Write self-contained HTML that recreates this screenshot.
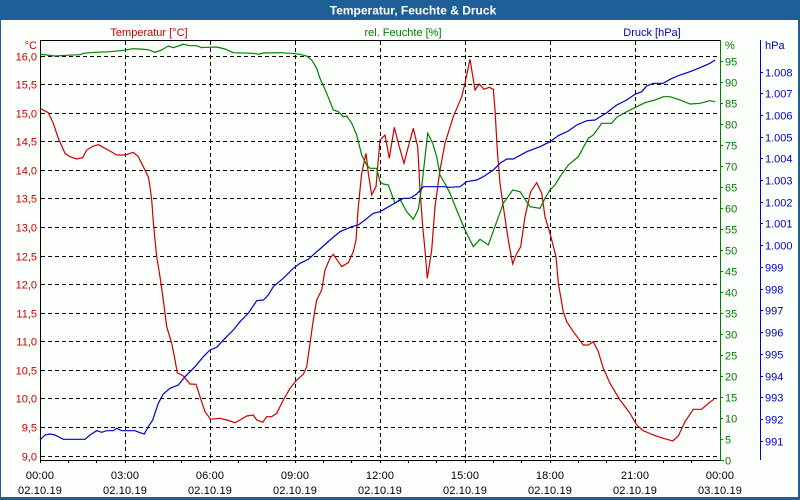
<!DOCTYPE html>
<html><head><meta charset="utf-8"><style>
html,body{margin:0;padding:0;background:#fcfefc;}
svg{display:block;font-family:"Liberation Sans",Arial,sans-serif;}
</style></head><body>
<svg width="800" height="500" viewBox="0 0 800 500" xmlns="http://www.w3.org/2000/svg">
<rect x="0" y="0" width="800" height="500" fill="#fcfefc"/>
<!-- frame -->
<rect x="0" y="0" width="800" height="20" fill="#1e5f98"/>
<rect x="0" y="0" width="1" height="500" fill="#1e5f98"/>
<rect x="798" y="0" width="2" height="500" fill="#1e5f98"/>
<rect x="0" y="497" width="800" height="3" fill="#1e5f98"/>
<text x="413" y="14.5" font-size="12" font-weight="bold" fill="#ffffff" text-anchor="middle">Temperatur, Feuchte &amp; Druck</text>

<!-- axis titles -->
<text x="149" y="36" font-size="11" fill="#cc0000" text-anchor="middle">Temperatur [°C]</text>
<text x="403" y="36" font-size="11" fill="#008000" text-anchor="middle">rel. Feuchte [%]</text>
<text x="652" y="36" font-size="11" fill="#0000cc" text-anchor="middle">Druck [hPa]</text>

<!-- grid -->
<g stroke="#000" stroke-width="1" stroke-dasharray="4,3" shape-rendering="crispEdges">
<line x1="41" y1="56.5" x2="720" y2="56.5"/>
<line x1="41" y1="84.5" x2="720" y2="84.5"/>
<line x1="41" y1="113.5" x2="720" y2="113.5"/>
<line x1="41" y1="141.5" x2="720" y2="141.5"/>
<line x1="41" y1="170.5" x2="720" y2="170.5"/>
<line x1="41" y1="198.5" x2="720" y2="198.5"/>
<line x1="41" y1="227.5" x2="720" y2="227.5"/>
<line x1="41" y1="256.5" x2="720" y2="256.5"/>
<line x1="41" y1="284.5" x2="720" y2="284.5"/>
<line x1="41" y1="313.5" x2="720" y2="313.5"/>
<line x1="41" y1="341.5" x2="720" y2="341.5"/>
<line x1="41" y1="370.5" x2="720" y2="370.5"/>
<line x1="41" y1="398.5" x2="720" y2="398.5"/>
<line x1="41" y1="427.5" x2="720" y2="427.5"/>
<line x1="41" y1="456.5" x2="720" y2="456.5"/>
<line x1="125.5" y1="41" x2="125.5" y2="463"/>
<line x1="210.5" y1="41" x2="210.5" y2="463"/>
<line x1="295.5" y1="41" x2="295.5" y2="463"/>
<line x1="380.5" y1="41" x2="380.5" y2="463"/>
<line x1="465.5" y1="41" x2="465.5" y2="463"/>
<line x1="550.5" y1="41" x2="550.5" y2="463"/>
<line x1="635.5" y1="41" x2="635.5" y2="463"/>
</g>

<!-- axes -->
<g stroke="#000" stroke-width="1" shape-rendering="crispEdges">
<line x1="40" y1="40.5" x2="720" y2="40.5"/>
<line x1="40.5" y1="40" x2="40.5" y2="463"/>
<line x1="40" y1="460.5" x2="720" y2="460.5"/>
<line x1="68.5" y1="460" x2="68.5" y2="463"/>
<line x1="96.5" y1="460" x2="96.5" y2="463"/>
<line x1="153.5" y1="460" x2="153.5" y2="463"/>
<line x1="181.5" y1="460" x2="181.5" y2="463"/>
<line x1="238.5" y1="460" x2="238.5" y2="463"/>
<line x1="266.5" y1="460" x2="266.5" y2="463"/>
<line x1="323.5" y1="460" x2="323.5" y2="463"/>
<line x1="351.5" y1="460" x2="351.5" y2="463"/>
<line x1="408.5" y1="460" x2="408.5" y2="463"/>
<line x1="436.5" y1="460" x2="436.5" y2="463"/>
<line x1="493.5" y1="460" x2="493.5" y2="463"/>
<line x1="521.5" y1="460" x2="521.5" y2="463"/>
<line x1="578.5" y1="460" x2="578.5" y2="463"/>
<line x1="606.5" y1="460" x2="606.5" y2="463"/>
<line x1="663.5" y1="460" x2="663.5" y2="463"/>
<line x1="691.5" y1="460" x2="691.5" y2="463"/>
</g>
<g stroke="#008000" stroke-width="1" shape-rendering="crispEdges">
<line x1="720.5" y1="40" x2="720.5" y2="461"/>
<line x1="720" y1="460.5" x2="724" y2="460.5"/>
<line x1="720" y1="439.5" x2="723" y2="439.5"/>
<line x1="720" y1="418.5" x2="723" y2="418.5"/>
<line x1="720" y1="397.5" x2="723" y2="397.5"/>
<line x1="720" y1="376.5" x2="723" y2="376.5"/>
<line x1="720" y1="355.5" x2="723" y2="355.5"/>
<line x1="720" y1="334.5" x2="723" y2="334.5"/>
<line x1="720" y1="313.5" x2="723" y2="313.5"/>
<line x1="720" y1="292.5" x2="723" y2="292.5"/>
<line x1="720" y1="271.5" x2="723" y2="271.5"/>
<line x1="720" y1="250.5" x2="723" y2="250.5"/>
<line x1="720" y1="229.5" x2="723" y2="229.5"/>
<line x1="720" y1="208.5" x2="723" y2="208.5"/>
<line x1="720" y1="187.5" x2="723" y2="187.5"/>
<line x1="720" y1="166.5" x2="723" y2="166.5"/>
<line x1="720" y1="145.5" x2="723" y2="145.5"/>
<line x1="720" y1="124.5" x2="723" y2="124.5"/>
<line x1="720" y1="103.5" x2="723" y2="103.5"/>
<line x1="720" y1="82.5" x2="723" y2="82.5"/>
<line x1="720" y1="61.5" x2="723" y2="61.5"/>
</g>
<g stroke="#0000cc" stroke-width="1" shape-rendering="crispEdges">
<line x1="760.5" y1="40" x2="760.5" y2="460"/>
<line x1="760" y1="441.5" x2="763" y2="441.5"/>
<line x1="760" y1="419.5" x2="763" y2="419.5"/>
<line x1="760" y1="397.5" x2="763" y2="397.5"/>
<line x1="760" y1="376.5" x2="763" y2="376.5"/>
<line x1="760" y1="354.5" x2="763" y2="354.5"/>
<line x1="760" y1="332.5" x2="763" y2="332.5"/>
<line x1="760" y1="310.5" x2="763" y2="310.5"/>
<line x1="760" y1="289.5" x2="763" y2="289.5"/>
<line x1="760" y1="267.5" x2="763" y2="267.5"/>
<line x1="760" y1="245.5" x2="763" y2="245.5"/>
<line x1="760" y1="223.5" x2="763" y2="223.5"/>
<line x1="760" y1="202.5" x2="763" y2="202.5"/>
<line x1="760" y1="180.5" x2="763" y2="180.5"/>
<line x1="760" y1="158.5" x2="763" y2="158.5"/>
<line x1="760" y1="137.5" x2="763" y2="137.5"/>
<line x1="760" y1="115.5" x2="763" y2="115.5"/>
<line x1="760" y1="93.5" x2="763" y2="93.5"/>
<line x1="760" y1="72.5" x2="763" y2="72.5"/>
</g>

<!-- left labels -->
<g font-size="11" fill="#cc0000" text-anchor="end">
<text x="37" y="49">°C</text>
<text x="37" y="60.5">16,0</text>
<text x="37" y="88.5">15,5</text>
<text x="37" y="117.5">15,0</text>
<text x="37" y="145.5">14,5</text>
<text x="37" y="174.5">14,0</text>
<text x="37" y="202.5">13,5</text>
<text x="37" y="231.5">13,0</text>
<text x="37" y="260.5">12,5</text>
<text x="37" y="288.5">12,0</text>
<text x="37" y="317.5">11,5</text>
<text x="37" y="345.5">11,0</text>
<text x="37" y="374.5">10,5</text>
<text x="37" y="402.5">10,0</text>
<text x="37" y="431.5">9,5</text>
<text x="37" y="460.5">9,0</text>
</g>

<!-- humidity labels -->
<g font-size="11" fill="#008000">
<text x="725" y="49">%</text>
<text x="725" y="464.5">0</text>
<text x="725" y="443.5">5</text>
<text x="725" y="422.5">10</text>
<text x="725" y="401.5">15</text>
<text x="725" y="380.5">20</text>
<text x="725" y="359.5">25</text>
<text x="725" y="338.5">30</text>
<text x="725" y="317.5">35</text>
<text x="725" y="296.5">40</text>
<text x="725" y="275.5">45</text>
<text x="725" y="254.5">50</text>
<text x="725" y="233.5">55</text>
<text x="725" y="212.5">60</text>
<text x="725" y="191.5">65</text>
<text x="725" y="170.5">70</text>
<text x="725" y="149.5">75</text>
<text x="725" y="128.5">80</text>
<text x="725" y="107.5">85</text>
<text x="725" y="86.5">90</text>
<text x="725" y="65.5">95</text>
</g>

<!-- pressure labels -->
<g font-size="11" fill="#0000cc">
<text x="765" y="49">hPa</text>
<text x="765" y="445.5">991</text>
<text x="765" y="423.5">992</text>
<text x="765" y="401.5">993</text>
<text x="765" y="380.5">994</text>
<text x="765" y="358.5">995</text>
<text x="765" y="336.5">996</text>
<text x="765" y="314.5">997</text>
<text x="765" y="293.5">998</text>
<text x="765" y="271.5">999</text>
<text x="765" y="249.5">1.000</text>
<text x="765" y="227.5">1.001</text>
<text x="765" y="206.5">1.002</text>
<text x="765" y="184.5">1.003</text>
<text x="765" y="162.5">1.004</text>
<text x="765" y="141.5">1.005</text>
<text x="765" y="119.5">1.006</text>
<text x="765" y="97.5">1.007</text>
<text x="765" y="76.5">1.008</text>
</g>

<!-- x labels -->
<g font-size="11" fill="#000" text-anchor="middle" letter-spacing="0.15">
<text x="40" y="479">00:00</text><text x="40" y="494">02.10.19</text>
<text x="125" y="479">03:00</text><text x="125" y="494">02.10.19</text>
<text x="210" y="479">06:00</text><text x="210" y="494">02.10.19</text>
<text x="295" y="479">09:00</text><text x="295" y="494">02.10.19</text>
<text x="380" y="479">12:00</text><text x="380" y="494">02.10.19</text>
<text x="465" y="479">15:00</text><text x="465" y="494">02.10.19</text>
<text x="550" y="479">18:00</text><text x="550" y="494">02.10.19</text>
<text x="635" y="479">21:00</text><text x="635" y="494">02.10.19</text>
<text x="720" y="479">00:00</text><text x="720" y="494">03.10.19</text>
</g>

<!-- series -->
<polyline fill="none" stroke="#cc0000" stroke-width="1.2" points="40,108.3 48.3,112.7 53.3,123.3 58.3,138.3 65,153.3 70,156.7 76.7,159 82.7,157.7 86.7,150 93.3,146 98.3,144.7 105,148.3 110,151 116.7,155 125,155 133.3,152.3 138.3,156.7 143.3,166.7 148.3,176.7 150,186.7 151.7,200 153.3,221.7 155,240 156.7,256.7 160,276.7 163.3,300 166.7,326.7 171.7,343.3 175,360 177.3,372.7 183.3,376 190,384 196,384.3 200,396.7 205,411.7 210.7,419.3 220,418.3 226.7,420 235,422.7 240,420 246.7,416 253.3,415 256.7,420 262.7,422.3 266.7,416.7 271.7,416.7 276.7,413.3 283.3,400 290,388.3 296.7,380 303.3,374.3 306.7,366.7 310,343.3 313.3,320 316.7,300 321.7,290 325,270 330,258.3 333.3,254.3 338.3,261.7 341.7,266.7 348.3,262.7 353.3,251.7 356,240 358.3,206.7 361.7,173.3 366,153.3 368.3,173.3 371.7,195 376,186.7 380,140 385,135 389.3,158.3 394.3,127.3 399.3,146.7 404,163.3 408.3,146.7 413.3,128.3 417.7,146.7 420,190 422.7,226.7 425,250 427.3,278.3 431.7,250 435,206.7 440,170 445,143.3 453.3,116.7 461.7,96.7 465,83.3 470,59.3 475,90 479.3,84 484,89.3 489.3,87.3 493.3,89.3 495,110 497.3,150 500,183.3 503.3,206.7 508.3,240 512.7,264 516,255 520.7,246.7 525,216.7 530.7,191.7 536.7,182.7 541.7,193.3 545,216.7 550,233.3 553,245 556,256.7 558.3,283.3 563.3,311.7 566.7,321.7 573.3,331.7 578.3,338.3 583.3,345 588.3,345 593.3,341.7 598.3,351.7 603.3,368.3 610,383.3 620,400 630,413.3 636.7,425 643.3,430.7 653.3,435 663.3,438.3 672.7,441 678.3,436 685,421.7 693.3,409.3 701.7,409.3 708.3,403.3 714,399.3"/>
<polyline fill="none" stroke="#008000" stroke-width="1.2" points="40,54.3 46.7,55 55,56 66.7,55.3 80,54.7 83.3,53.3 95,52.3 110,51.7 123.3,50.3 133.3,48.7 140,49 148.3,49.7 155,52.3 161.7,50 168.3,46 173.3,47.7 183.3,44.3 190,45.7 196.7,45.7 201.7,47.7 206.7,47.3 216.7,47 225,49 233.3,52.7 253.3,53.3 258.3,54.3 263.3,53 280,52.7 291.7,53.3 300,54.3 306.7,56 311.7,60 316.7,68.3 320,78.3 326.7,93.3 333.3,110 338.3,111.7 343.3,116.7 346.7,116 351.7,123.3 356.7,135 361.7,155 366.7,165 370,168.3 376.7,168.3 380,181.7 383.3,184 388.3,185 395,203.3 400,199.3 406.7,211.7 413.3,219.3 418.3,209.3 421.7,186.7 427.7,133.3 432.7,143.3 436.7,156.7 440,175 446.7,186.7 450,193.3 456.7,210 465,230 473.3,246.7 480,239.3 488.3,245 496.7,221.7 503.3,203.3 512.7,190 520,191.7 530,206.7 540,208.3 545,198.3 550,190 555,185 560,176.7 568.3,165 578.3,156.7 588.3,138.3 593.3,135 601.7,123.3 611.7,123.3 616.7,117.3 626.7,111.7 636.7,106.7 645,102.7 655,100 663.3,96.7 670,96.7 680,100 690,104 700,103.3 710,100.7 715,101.7"/>
<polyline fill="none" stroke="#0000cc" stroke-width="1.2" points="40,440 45,435 50,434 55,435 63.3,439.3 76.7,439.3 85,439.3 90,435 96.7,430.7 101.7,432.3 106.7,430.7 113.3,430.7 116.7,428.3 121.7,430.7 135,430.7 140,432.7 144.3,434 148.3,426.7 152.7,420 158.3,403.3 163.3,394 170,388.3 178.3,385 185,376.7 195,366.7 203.3,356.7 210,350 216.7,347.3 225,338.3 233.3,330 240,321.7 248.3,313.3 256.7,300.7 263.3,300 268.3,295 273.3,286.7 283.3,278.3 293.3,268.3 300,263.3 308.3,259.3 316.7,251.7 320,249 330,240 340,231.7 351.7,226.7 358.3,225 365,220 373.3,213.3 380,211.7 393.3,204 403.3,198.3 410,198.3 416.7,194 423.3,186.7 443.3,186.7 450,187.3 460,186.7 466.7,181.7 476.7,180 483.3,176.7 493.3,170 500,163.3 506.7,159 513.3,159 526.7,151.7 540,146.7 550,141.7 558.3,135.7 568.3,131 576.7,125 586.7,120.7 595,120 606.7,112.7 616.7,105 626.7,100 635,94.3 641.7,91.7 646.7,86 653.3,83.3 663.3,83.3 670,79.3 680,75 690,71.7 700,67.7 710,63.3 715,60"/>
</svg>
</body></html>
